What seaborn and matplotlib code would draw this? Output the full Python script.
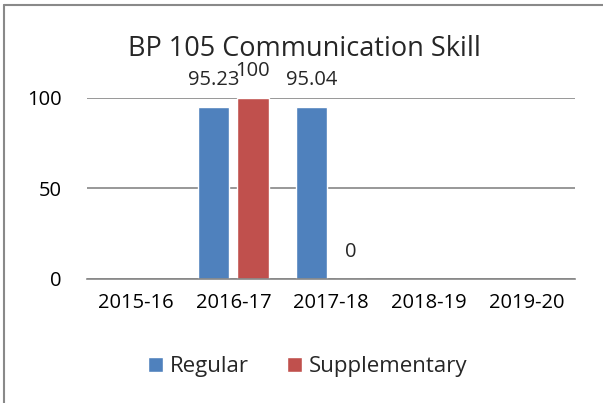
import numpy as np
import pandas as pd
import matplotlib
matplotlib.use("Agg")
import matplotlib.pyplot as plt
import seaborn as sns
from matplotlib.lines import Line2D

# Data
years = ["2015-16", "2016-17", "2017-18", "2018-19", "2019-20"]
regular = [np.nan, 95.23, 95.04, np.nan, np.nan]
supplementary = [np.nan, 100, 0, np.nan, np.nan]
series_names = ["Regular", "Supplementary"]
colors = ["#4F81BD", "#C0504D"]

df = pd.DataFrame({
    "year": years * 2,
    "value": regular + supplementary,
    "exam": [series_names[0]] * len(years) + [series_names[1]] * len(years),
})

sns.set_style("white")
plt.rcParams["font.family"] = ["Open Sans", "DejaVu Sans"]

fig = plt.figure(figsize=(6.03, 4.03), dpi=100)
ax = fig.add_axes([0.144, 0.308, 0.81, 0.449])

sns.barplot(data=df, x="year", y="value", hue="exam", order=years,
            hue_order=series_names, palette=colors, width=0.8, gap=0.2,
            saturation=1, ax=ax, legend=True)

# data labels
for cont in ax.containers:
    labels = ["" if np.isnan(v) else f"{v:g}" for v in cont.datavalues]
    ax.bar_label(cont, labels=labels, padding=12, fontsize=14.5)
for bar in ax.patches:
    bar.set_clip_on(False)

ax.set_ylim(0, 100)
ax.set_yticks([0, 50, 100])
ax.yaxis.grid(True, color="#868686", linewidth=1.2)
ax.set_axisbelow(True)
for s in ["left", "right", "top"]:
    ax.spines[s].set_visible(False)
ax.spines["bottom"].set_color("#868686")
ax.spines["bottom"].set_linewidth(1.2)
ax.tick_params(axis="both", length=0, labelsize=14.5, colors="black")
ax.tick_params(axis="y", pad=18)
ax.tick_params(axis="x", pad=10)
ax.set_xlabel("")
ax.set_ylabel("")

fig.text(0.505, 0.861, "BP 105 Communication Skill", ha="center", va="baseline", fontsize=19.5)

handles, lbls = ax.get_legend_handles_labels()
ax.legend(handles, lbls, loc="center", bbox_to_anchor=(0.51, 0.09),
          bbox_transform=fig.transFigure, ncol=2, frameon=False,
          fontsize=16, handlelength=0.7, handleheight=0.7,
          handletextpad=0.3, columnspacing=1.7)

# chart frame (only top and left edges are inside the picture)
fig.lines.append(Line2D([0.006, 0.006], [0, 0.988], transform=fig.transFigure,
                        color="#898989", linewidth=1.5))
fig.lines.append(Line2D([0.006, 1], [0.988, 0.988], transform=fig.transFigure,
                        color="#898989", linewidth=1.5))

fig.savefig("out.png", dpi=100)
